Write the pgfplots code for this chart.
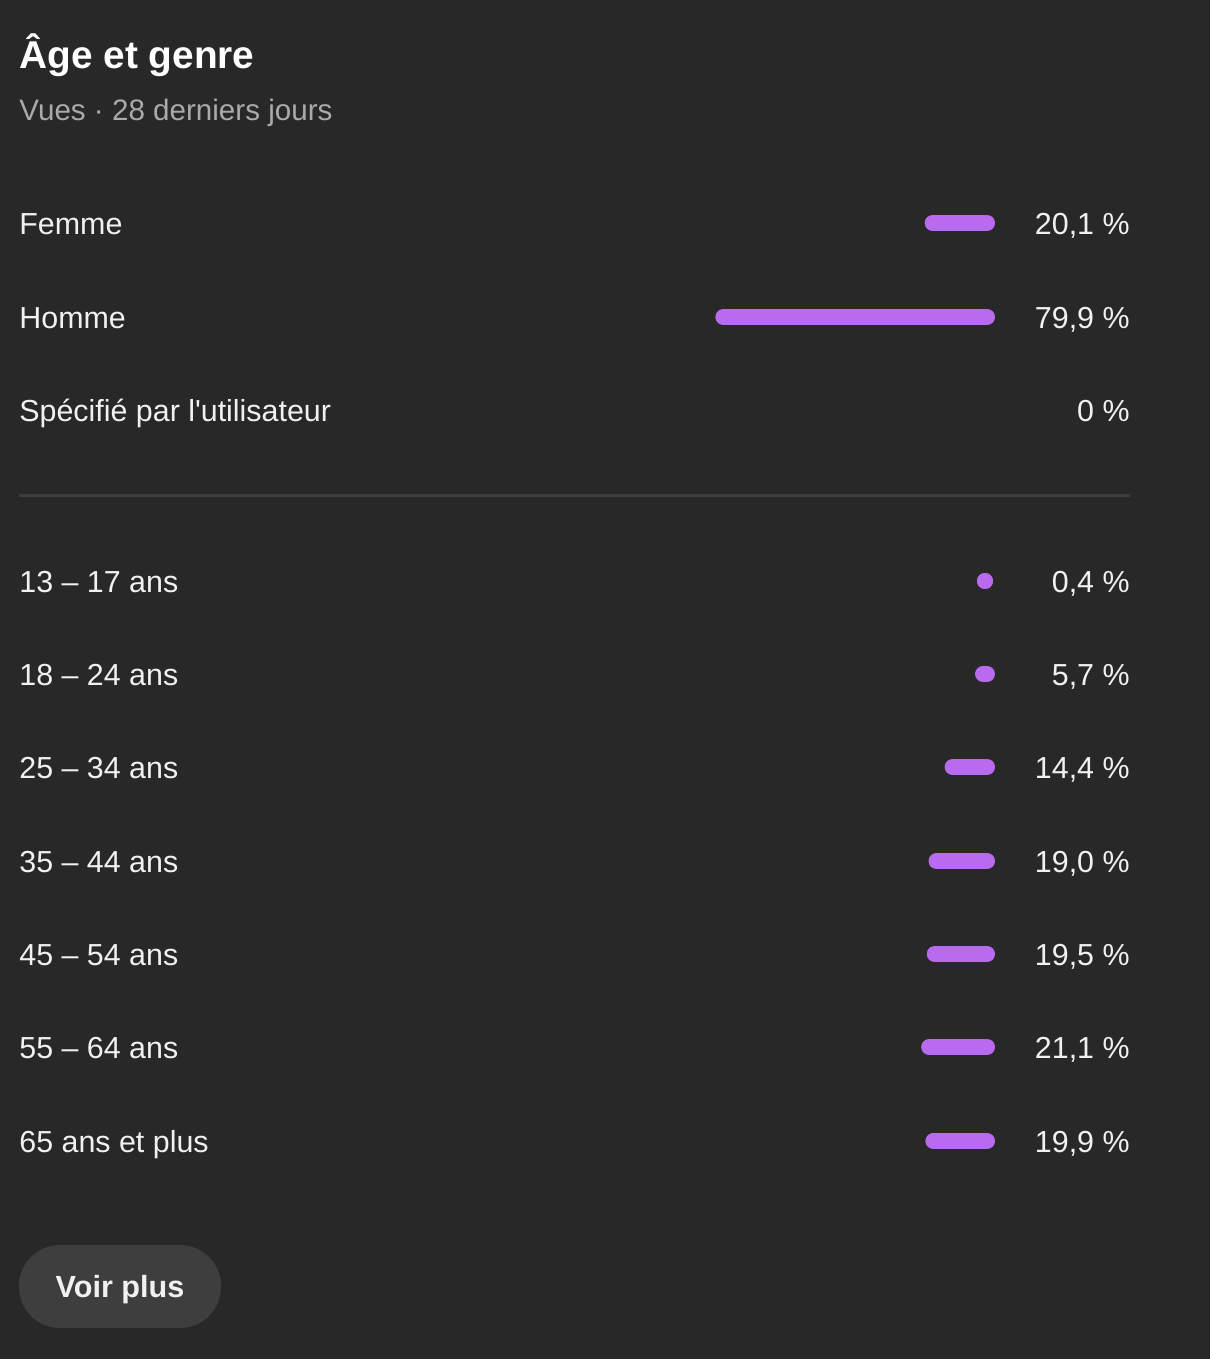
\documentclass[border=0pt]{standalone}
\usepackage{pgfplots}
\pgfplotsset{compat=1.18}
\usepackage{pgfplotstable}
\usepackage{fontspec}
\setmainfont{Liberation Sans}
\newfontfamily\nomap{Liberation Sans}
\definecolor{bg}{HTML}{282828}
\definecolor{barc}{HTML}{B96BEF}
\definecolor{txt}{HTML}{F1F1F1}
\definecolor{sub}{HTML}{AAAAAA}
\definecolor{sep}{HTML}{3D3D3D}
\definecolor{btn}{HTML}{3E3E3E}

% y = row centre (px from top), v = share in %
\pgfplotstableread{
y v
223 20.1
317 79.9
581 0.4
674 5.7
767 14.4
861 19.0
954 19.5
1047 21.1
1141 19.9
}\bars

\newcommand{\lbl}{\fontsize{15.2}{18}\selectfont}
\begin{document}
\begin{tikzpicture}
\fill[bg] (0,0) rectangle (605pt,679.5pt);
\begin{axis}[
  scale only axis, width=605pt, height=679.5pt,
  xmin=0, xmax=1210, ymin=0, ymax=1359, y dir=reverse,
  hide axis, clip=false,
]
\addplot[draw=none, mark=none, forget plot,
  error bars/.cd, x dir=both, x explicit, error mark=none,
  error bar style={draw=barc, line width=8pt, line cap=round}]
  table[x expr={min(995-1.75*\thisrow{v},985)}, y=y,
        x error expr={max(1.75*\thisrow{v}-8,0.001)}] \bars;

% separator
\draw[sep, line width=1.5pt] (axis cs:19,495) -- (axis cs:1130,495);
% button
\fill[btn, rounded corners=20.5pt] (axis cs:19,1245) rectangle (axis cs:221,1328);
\node[anchor=base, txt, inner sep=0pt, font=\fontsize{15.3}{18}\selectfont\bfseries] at (axis cs:120,1297) {Voir plus};

% title
\node[anchor=base west, inner sep=0pt, white, font=\fontsize{19.4}{22}\selectfont\bfseries] at (axis cs:19,69) {Âge et genre};
\node[anchor=base west, inner sep=0pt, sub, font=\fontsize{14.8}{18}\selectfont] at (axis cs:19,120) {Vues · 28 derniers jours};

% row labels
\foreach \yy/\tt/\pp in {223/Femme/{20,1 \%}, 317/Homme/{79,9 \%}, 410/{Spécifié par l{\nomap'}utilisateur}/{0 \%},
  581/{13 – 17 ans}/{0,4 \%}, 674/{18 – 24 ans}/{5,7 \%}, 767/{25 – 34 ans}/{14,4 \%},
  861/{35 – 44 ans}/{19,0 \%}, 954/{45 – 54 ans}/{19,5 \%}, 1047/{55 – 64 ans}/{21,1 \%},
  1141/{65 ans et plus}/{19,9 \%}}{
  \edef\temp{\noexpand\node[anchor=base west, inner sep=0pt, txt, font=\noexpand\lbl] at (axis cs:19,\yy+11) {\unexpanded\expandafter{\tt}};
    \noexpand\node[anchor=base east, inner sep=0pt, txt, font=\noexpand\lbl] at (axis cs:1130,\yy+11) {\unexpanded\expandafter{\pp}};}
  \temp
}
\end{axis}
\end{tikzpicture}
\end{document}
